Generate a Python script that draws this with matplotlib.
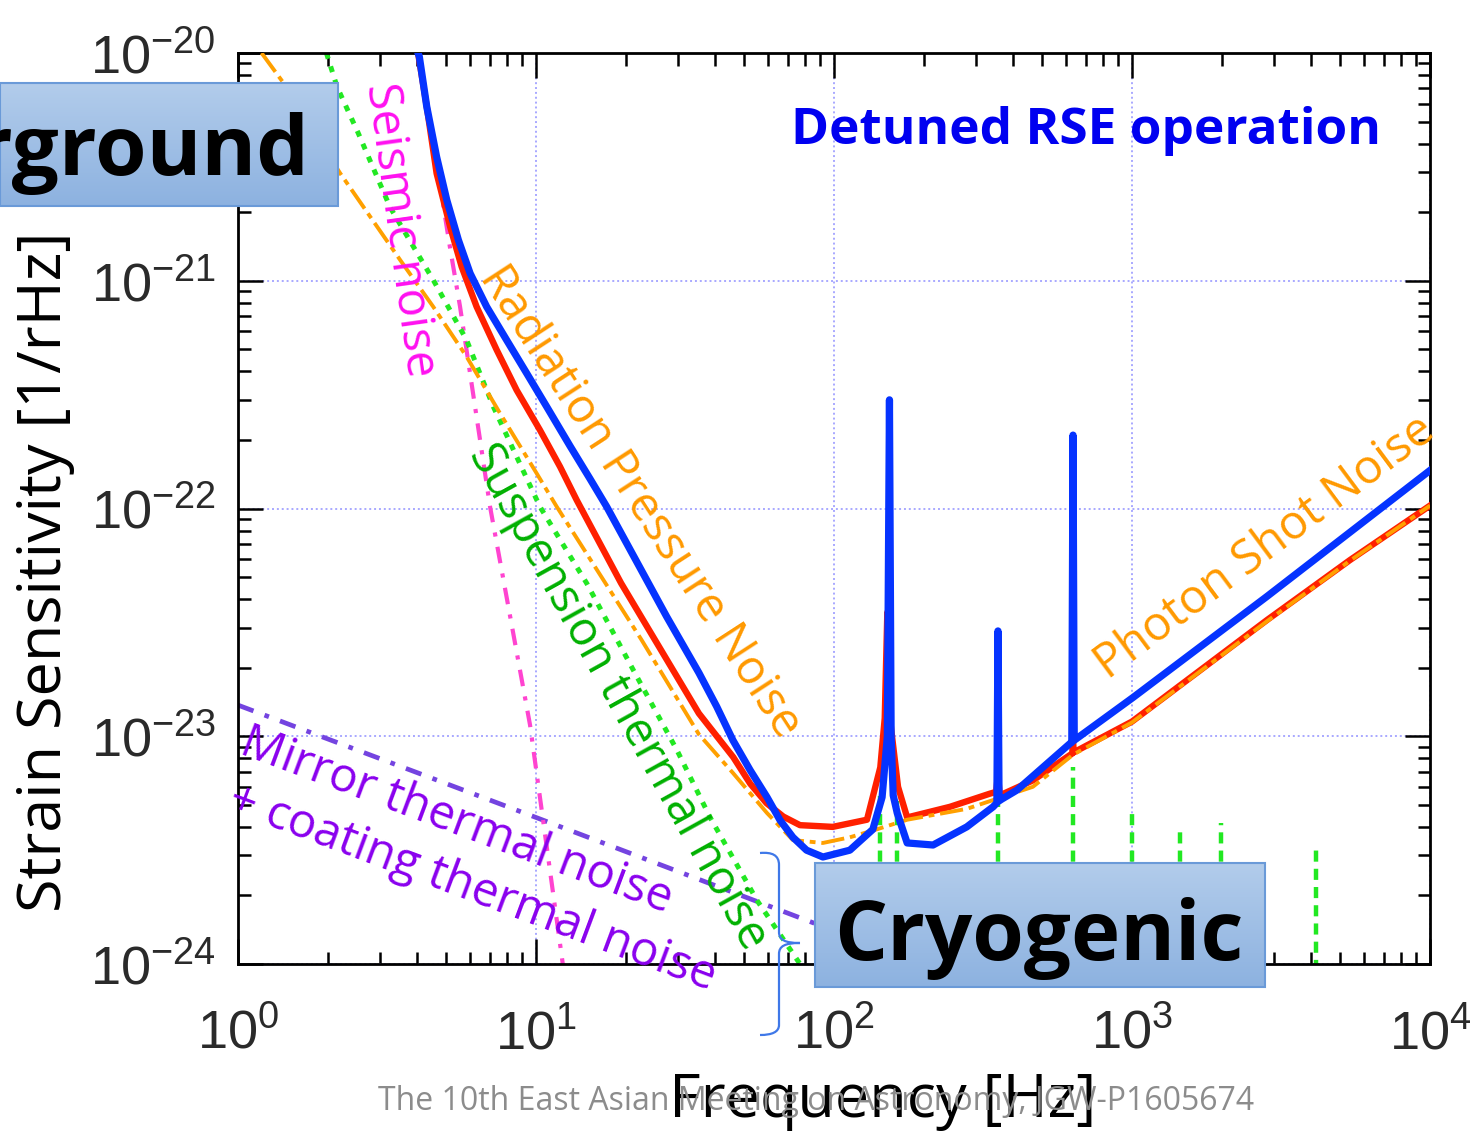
import numpy as np
import matplotlib.pyplot as plt
from matplotlib.patches import Rectangle, PathPatch
from matplotlib.path import Path
from matplotlib.colors import LinearSegmentedColormap

plt.rcParams['font.family'] = ['Liberation Sans', 'DejaVu Sans']
plt.rcParams['mathtext.fontset'] = 'custom'
plt.rcParams['mathtext.rm'] = 'Liberation Sans'
plt.rcParams['mathtext.it'] = 'Liberation Sans:italic'
plt.rcParams['mathtext.bf'] = 'Liberation Sans:bold'
plt.rcParams['axes.unicode_minus'] = False

LABEL_FONT = ['Open Sans', 'DejaVu Sans']

# total sensitivity (detuned RSE)
f_total = [4.02, 4.06, 4.30, 4.64, 5.02, 5.49, 6.01, 6.83, 7.97, 9.31, 10.86, 13.01, 15.18,
           17.27, 27.45, 35.2, 40.4, 45.8, 52.3, 59.6, 65.9, 72.8, 80.9, 91.8, 113, 135,
           145, 151, 153.5, 155.5, 158, 163, 176, 215, 279, 342, 352, 355, 358, 366, 411,
           620, 628, 634, 640, 1008, 2830, 10000]
h_total = [1.0e-20, 9.63e-21, 5.81e-21, 3.50e-21, 2.26e-21, 1.51e-21, 1.078e-21, 7.69e-22,
           5.49e-22, 3.92e-22, 2.80e-22, 1.88e-22, 1.35e-22, 1.018e-22, 3.35e-23, 1.9e-23,
           1.35e-23, 9.6e-24, 7.1e-24, 5.4e-24, 4.28e-24, 3.6e-24, 3.16e-24, 2.95e-24,
           3.16e-24, 3.9e-24, 5.4e-24, 1.0e-23, 3.0e-22, 1.0e-23, 5.5e-24, 4.6e-24, 3.4e-24,
           3.33e-24, 4.0e-24, 4.9e-24, 5.1e-24, 2.9e-23, 5.2e-24, 5.3e-24, 5.8e-24, 9.3e-24,
           9.4e-24, 2.1e-22, 9.6e-24, 1.48e-23, 4.1e-23, 1.47e-22]

# total sensitivity (broadband)
f_bb = [4.02, 4.30, 4.64, 5.15, 5.63, 6.32, 7.38, 8.61, 10.31, 12.04, 13.69, 19.3, 35.2,
        45.9, 52.3, 59.4, 67.6, 76.9, 99, 129, 143, 148, 151, 154, 164, 176, 245, 334,
        350, 355, 360, 465, 630, 634, 638, 1000, 2840, 5390, 10000]
h_bb = [1.0e-20, 5.81e-21, 2.96e-21, 1.727e-21, 1.152e-21, 7.69e-22, 4.97e-22, 3.31e-22,
        2.21e-22, 1.526e-22, 1.09e-22, 4.7e-23, 1.26e-23, 8.1e-24, 6.2e-24, 5.08e-24,
        4.44e-24, 4.07e-24, 4.0e-24, 4.3e-24, 7.3e-24, 1.2e-23, 3.5e-23, 1.2e-23, 6.0e-24,
        4.4e-24, 4.9e-24, 5.6e-24, 5.7e-24, 6.8e-24, 5.5e-24, 6.4e-24, 8.4e-24, 9.5e-24,
        8.5e-24, 1.16e-23, 3.24e-23, 5.94e-23, 1.03e-22]

# quantum noise (radiation pressure + photon shot)
f_quantum = [1.2, 1.42, 2.2, 3.50, 4.52, 5.85, 7.57, 10.05, 11.74, 22.6, 35.2, 45.8, 59.6,
             72.8, 91.8, 113, 139, 176, 279, 465, 634, 1000, 2840, 5390, 10000]
h_quantum = [1e-20, 7.4e-21, 2.97e-21, 1.234e-21, 7.69e-22, 4.64e-22, 2.62e-22, 1.427e-22,
             1.018e-22, 2.65e-23, 1.02e-23, 6.9e-24, 4.6e-24, 3.5e-24, 3.4e-24, 3.6e-24,
             3.9e-24, 4.3e-24, 4.8e-24, 6.0e-24, 8.3e-24, 1.15e-23, 3.2e-23, 5.9e-23, 1.03e-22]

# suspension thermal noise
f_susp = [1.98, 2.15, 2.53, 3.24, 3.88, 4.52, 5.85, 7.19, 8.61, 10.31, 14.79, 21.22, 29.7,
          38.4, 55.2, 76.9, 80]
h_susp = [1e-20, 7.1e-21, 4.46e-21, 2.1e-21, 1.41e-21, 1.008e-21, 5.49e-22, 2.8e-22,
          1.688e-22, 1.018e-22, 4.7e-23, 1.95e-23, 8.7e-24, 4.4e-24, 1.9e-24, 1.0e-24, 9e-25]
f_violin = [143, 163, 355, 634, 1000, 1449, 1990, 4142]
h_violin = [5.5e-24, 5.2e-24, 5.3e-24, 7.3e-24, 4.9e-24, 3.95e-24, 4.16e-24, 3.24e-24]

# seismic noise
f_seis = [4.05, 5.14, 5.56, 6.49, 7.01, 9.55, 12.3, 12.6]
h_seis = [1e-20, 1.41e-21, 7.7e-22, 2.0e-22, 1.02e-22, 1.12e-23, 1.0e-24, 8e-25]

# mirror + coating thermal noise
f_mirror = [1, 10, 100, 1000]
h_mirror = [1.37e-23, 4.4e-24, 1.4e-24, 4.5e-25]

W, H = 1478, 1134


def fx(px):
    return px / W


def fy(py):
    return 1 - py / H


fig = plt.figure(figsize=(W / 100, H / 100), dpi=100)
ax = fig.add_axes([fx(238), fy(964), (1430 - 238) / W, (964 - 53) / H])
ax.set_xscale('log')
ax.set_yscale('log')

ax.plot(f_mirror, h_mirror, color='#7444e0', lw=3.4, ls=(0, (3.5, 2.5, 1, 2.5)), zorder=2)
ax.plot(f_seis, h_seis, color='#ff44d0', lw=3.0, ls=(0, (4, 2.5, 1, 2.5)), zorder=2)
ax.plot(f_susp, h_susp, color='#22e822', lw=3.6, ls=(0, (1.2, 1.6)), zorder=2)
ax.vlines(f_violin, 1e-25, h_violin, colors='#22e822', lw=3.2,
          linestyles=(0, (2.5, 1.6)), zorder=2)
ax.plot(f_bb, h_bb, color='#ff2000', lw=4.6, zorder=3)
ax.plot(f_quantum, h_quantum, color='#ffa000', lw=2.8, ls=(0, (6, 1.5, 1.5, 1.5)), zorder=4)
ax.plot(f_total, h_total, color='#0533ff', lw=5.2, zorder=5)

ax.set_xlim(1, 1e4)
ax.set_ylim(1e-24, 1e-20)
ax.grid(True, which='major', color='#a8a8ff', lw=1.4, ls=(0, (1, 1.5)))
ax.set_axisbelow(True)
for s in ax.spines.values():
    s.set_linewidth(2.0)
ax.tick_params(which='both', direction='in', top=True, right=True, width=1.8,
               labelsize=39, labelcolor='#2a2a2a')
ax.tick_params(which='major', length=18)
ax.tick_params(which='minor', length=9)
ax.tick_params(axis='x', which='major', pad=32)
ax.tick_params(axis='y', which='major', pad=16)

ax.set_xlabel('Frequency [Hz]', fontsize=44, family=LABEL_FONT)
ax.xaxis.set_label_coords((883 - 238) / 1192, (964 - 1071) / 911)
fig.text(fx(45), fy(572), 'Strain Sensitivity [1/rHz]', rotation=90, ha='center',
         va='center', fontsize=44, family=LABEL_FONT)


# curve labels
def label(px, py, s, color, rot, size=34, weight='normal'):
    fig.text(fx(px), fy(py), s, color=color, rotation=rot, rotation_mode='anchor',
             ha='center', va='center', fontsize=size, family=LABEL_FONT,
             fontweight=weight, zorder=6)


label(400, 230, 'Seismic noise', '#ff10f0', -82)
label(640, 502, 'Radiation Pressure Noise', '#ff9900', -57)
label(618, 697, 'Suspension thermal noise', '#00b000', -61)
label(1265, 548, 'Photon Shot Noise', '#ff9900', 36.6)
label(457, 821, 'Mirror thermal noise', '#8a00ee', -20.5)
label(472, 888, '+ coating thermal noise', '#8a00ee', -20.5)
label(1086, 131, 'Detuned RSE operation', '#0000f0', 0, size=37, weight='bold')

fig.text(fx(816), fy(1101), 'The 10th East Asian Meeting on Astronomy, JGW-P1605674',
         ha='center', va='center', fontsize=23, color='#8c8c8c', family=LABEL_FONT, zorder=0)

# highlighted boxes
box_cmap = LinearSegmentedColormap.from_list('box', ['#b2cceb', '#8db2e0'])
grad = np.linspace(0, 1, 64).reshape(-1, 1)


def box(x0, y0, x1, y1, text, tx, ty, ha):
    bax = fig.add_axes([fx(x0), fy(y1), (x1 - x0) / W, (y1 - y0) / H])
    bax.imshow(grad, cmap=box_cmap, aspect='auto', extent=[0, 1, 0, 1])
    bax.set_xlim(0, 1)
    bax.set_ylim(0, 1)
    bax.axis('off')
    bax.add_patch(Rectangle((0, 0), 1, 1, transform=bax.transAxes, fill=False,
                            ec='#6a9ad8', lw=1.5, clip_on=False))
    bax.text((tx - x0) / (x1 - x0), (y1 - ty) / (y1 - y0), text, ha=ha, va='baseline',
             fontsize=60, fontweight='bold', family=LABEL_FONT, color='black',
             transform=bax.transAxes)


box(0, 83, 338, 206, 'Underground', 310, 175, 'right')
box(815, 863, 1265, 987, 'Cryogenic', 1039, 960, 'center')

# brace
pts = [(760, 853), (772, 852), (779, 855), (779, 865), (779, 932), (779, 940), (785, 943),
       (800, 943), (785, 943), (779, 946), (779, 954), (779, 1025), (779, 1032), (772, 1035),
       (760, 1035)]
codes = [Path.MOVETO, Path.CURVE4, Path.CURVE4, Path.CURVE4, Path.LINETO, Path.CURVE4,
         Path.CURVE4, Path.CURVE4, Path.CURVE4, Path.CURVE4, Path.CURVE4, Path.LINETO,
         Path.CURVE4, Path.CURVE4, Path.CURVE4]
brace = Path([(fx(x), fy(y)) for x, y in pts], codes)
fig.patches.append(PathPatch(brace, transform=fig.transFigure, fill=False,
                             ec='#3f78e8', lw=1.6))

fig.savefig('out.png', dpi=100)
